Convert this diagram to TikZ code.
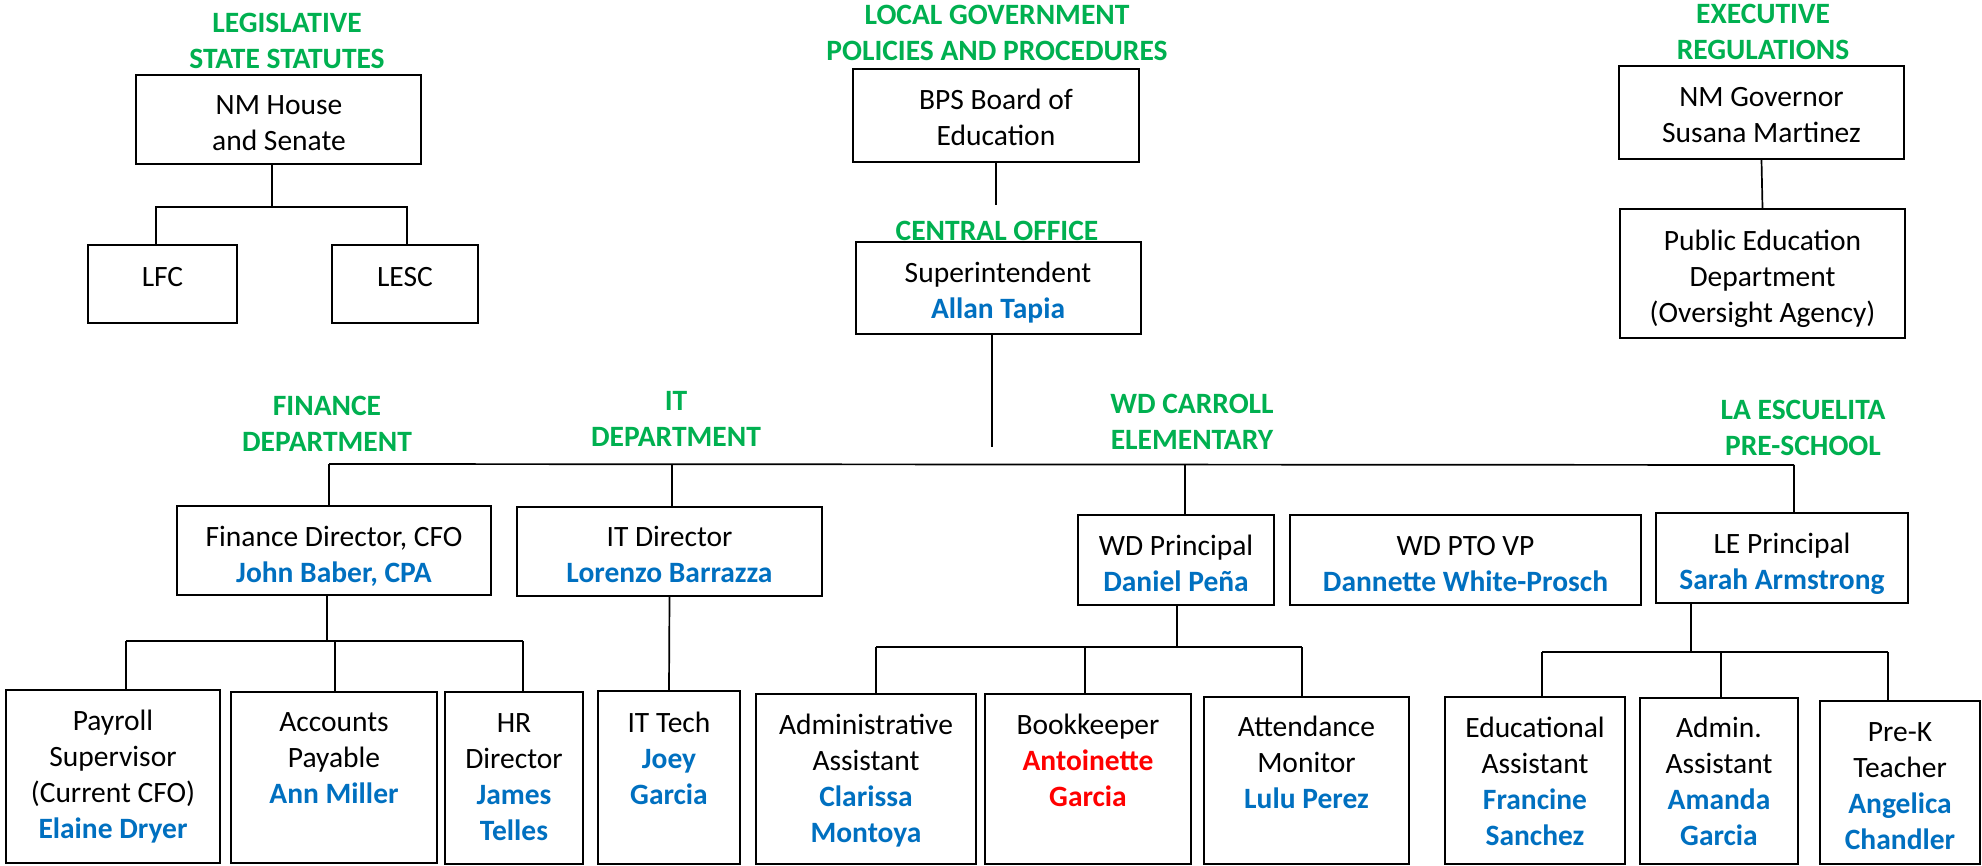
\documentclass[tikz,border=0pt]{standalone}
\usepackage{fontspec}
\setmainfont{Carlito}
\usetikzlibrary{fit}
\definecolor{hgreen}{RGB}{0,176,80}
\definecolor{nblue}{RGB}{0,112,192}
\definecolor{nred}{RGB}{255,0,0}
\newcommand{\bluename}[1]{{\color{nblue}\bfseries #1}}
\newcommand{\redname}[1]{{\color{nred}\bfseries #1}}
\begin{document}
\begin{tikzpicture}[x=1pt,y=-1pt,
  box/.style={draw, line width=2pt, inner sep=0pt},
  txt/.style={font=\fontsize{29.5}{36}\selectfont, align=center, inner sep=0pt, yshift=-6pt,
    execute at begin node=\strut, execute at end node=\strut},
  head/.style={txt, font=\fontsize{29.5}{36}\selectfont\bfseries, text=hgreen},
  conn/.style={line width=1.7pt},
  thinconn/.style={line width=1.1pt},
  thickconn/.style={line width=2.4pt}]
\fill[white] (0,0) rectangle (1982,866);
\useasboundingbox (0,0) rectangle (1982,866);

% ---------- headings ----------
\node[head] (hleg) at (287,40) {LEGISLATIVE\\STATE STATUTES};
\node[head] (hloc) at (997,32) {LOCAL GOVERNMENT\\POLICIES AND PROCEDURES};
\node[head] (hcen) at (997,227) {CENTRAL OFFICE};
\node[head] (hexe) at (1763,31.5) {EXECUTIVE\\REGULATIONS};
\node[head] (hfin) at (327,423.5) {FINANCE\\DEPARTMENT};
\node[head] (hit) at (676,418.5) {IT\\DEPARTMENT};
\node[head] (hwd) at (1192,421.5) {WD CARROLL\\ELEMENTARY};
\node[head] (hle) at (1803,427) {LA ESCUELITA\\PRE-SCHOOL};

% ---------- boxes ----------
\node[box, fit={(136,75) (421,164)}] (nm) {};
\node[box, fit={(88,245) (237,323)}] (lfc) {};
\node[box, fit={(332,245) (478,323)}] (lesc) {};
\node[box, fit={(853,69) (1139,162)}] (bps) {};
\node[box, fit={(856,242) (1141,334)}] (sup) {};
\node[box, fit={(1619,66) (1904,159)}] (gov) {};
\node[box, fit={(1620,209) (1905,338)}] (ped) {};

\node[box, fit={(177,506) (491,595)}] (fin) {};
\node[box, fit={(517,507) (822,596)}] (itd) {};
\node[box, fit={(1078,515) (1274,605)}] (wdp) {};
\node[box, fit={(1290,515) (1641,605)}] (pto) {};
\node[box, fit={(1656,513) (1908,603)}] (lep) {};

\node[box, fit={(6,690) (220,863)}] (pay) {};
\node[box, fit={(231,692) (437,863)}] (ap) {};
\node[box, fit={(445,692) (583,864)}] (hr) {};
\node[box, fit={(598,691) (740,864)}] (itt) {};
\node[box, fit={(756,694) (976,864)}] (adm) {};
\node[box, fit={(985,694) (1191,864)}] (bk) {};
\node[box, fit={(1204,697) (1409,864)}] (att) {};
\node[box, fit={(1445,697) (1625,864)}] (edu) {};
\node[box, fit={(1640,698) (1798,864)}] (ada) {};
\node[box, fit={(1820,701) (1980,864)}] (prek) {};

% ---------- box texts ----------
\node[txt] (tnm) at (279,122) {NM House\\and Senate};
\node[txt] (tlfc) at (162.5,273) {LFC};
\node[txt] (tlesc) at (405,273) {LESC};
\node[txt] (tbps) at (996,117) {BPS Board of\\Education};
\node[txt] (tsup) at (998,289.5) {Superintendent\\\bluename{Allan Tapia}};
\node[txt] (tgov) at (1761.5,114.5) {NM Governor\\Susana Martinez};
\node[txt] (tped) at (1762.5,276) {Public Education\\Department\\(Oversight Agency)};

\node[txt] (tfin) at (334,554) {Finance Director, CFO\\\bluename{John Baber, CPA}};
\node[txt] (titd) at (669.5,554) {IT Director\\\bluename{Lorenzo Barrazza}};
\node[txt] (twdp) at (1176,563) {WD Principal\\\bluename{Daniel Peña}};
\node[txt] (tpto) at (1465.5,563) {WD PTO VP\\\bluename{Dannette White-Prosch}};
\node[txt] (tlep) at (1782,561) {LE Principal\\\bluename{Sarah Armstrong}};

\node[txt] (tpay) at (113,774) {Payroll\\Supervisor\\(Current CFO)\\\bluename{Elaine Dryer}};
\node[txt] (tap) at (334,757) {Accounts\\Payable\\\bluename{Ann Miller}};
\node[txt] (thr) at (514,776) {HR\\Director\\\bluename{James}\\\bluename{Telles}};
\node[txt] (titt) at (669,758) {IT Tech\\\bluename{Joey}\\\bluename{Garcia}};
\node[txt] (tadm) at (866,777.5) {Administrative\\Assistant\\\bluename{Clarissa}\\\bluename{Montoya}};
\node[txt] (tbk) at (1088,760) {Bookkeeper\\\redname{Antoinette}\\\redname{Garcia}};
\node[txt] (tatt) at (1306.5,762) {Attendance\\Monitor\\\bluename{Lulu Perez}};
\node[txt] (tedu) at (1535,780.5) {Educational\\Assistant\\\bluename{Francine}\\\bluename{Sanchez}};
\node[txt] (tada) at (1719,781) {Admin.\\Assistant\\\bluename{Amanda}\\\bluename{Garcia}};
\node[txt] (tprek) at (1900,785) {Pre-K\\Teacher\\\bluename{Angelica}\\\bluename{Chandler}};

% ---------- connectors ----------
% legislative
\coordinate (lbM) at (272,207);
\coordinate (lbL) at (156,207);
\coordinate (lbR) at (407,207);
\draw[conn] (nm.south -| lbM) -- (lbM);
\draw[conn] (lfc.north -| lbL) -- (lbL) -- (lbR) -- (lesc.north -| lbR);
% local government
\coordinate (bpsEnd) at (996,205);
\draw[conn] (bps.south -| bpsEnd) -- (bpsEnd);
\coordinate (supEnd) at (992,447);
\draw[conn] (sup.south -| supEnd) -- (supEnd);
% executive
\draw[conn] (gov.south) -- (ped.north);
% main bus
\coordinate (mbF) at (329,464);
\coordinate (mbI) at (672,464);
\coordinate (mbW) at (1185,465);
\coordinate (mbL) at (1794,465);
\draw[conn] (mbF) -- (mbL);
\draw[thinconn] (mbF) -- (fin.north -| mbF);
\draw[thinconn] (mbI) -- (itd.north -| mbI);
\draw[thinconn] (mbW) -- (wdp.north -| mbW);
\draw[thinconn] (mbL) -- (lep.north -| mbL);
% finance sub
\coordinate (fbM) at (327,641);
\coordinate (fbL) at (126,641);
\coordinate (fbA) at (335,641);
\coordinate (fbR) at (523,641);
\draw[thinconn] (fin.south -| fbM) -- (fbM);
\draw[thickconn] (fbL) -- (fbR);
\draw[thinconn] (fbL) -- (pay.north -| fbL);
\draw[thinconn] (fbA) -- (ap.north -| fbA);
\draw[thinconn] (fbR) -- (hr.north -| fbR);
% IT sub
\draw[conn] (itd.south) -- (itt.north);
% WD sub
\coordinate (wbM) at (1177,647);
\coordinate (wbL) at (876,647);
\coordinate (wbB) at (1085,647);
\coordinate (wbR) at (1302,647);
\draw[thinconn] (wdp.south -| wbM) -- (wbM);
\draw[conn] (wbL) -- (wbR);
\draw[thinconn] (wbL) -- (adm.north -| wbL);
\draw[thinconn] (wbB) -- (bk.north -| wbB);
\draw[thinconn] (wbR) -- (att.north -| wbR);
% LE sub
\coordinate (ebM) at (1691,652);
\coordinate (ebL) at (1542,652);
\coordinate (ebA) at (1721,652);
\coordinate (ebR) at (1888,652);
\draw[thinconn] (lep.south -| ebM) -- (ebM);
\draw[thickconn] (ebL) -- (ebR);
\draw[thinconn] (ebL) -- (edu.north -| ebL);
\draw[thinconn] (ebA) -- (ada.north -| ebA);
\draw[thinconn] (ebR) -- (prek.north -| ebR);
\end{tikzpicture}
\end{document}
